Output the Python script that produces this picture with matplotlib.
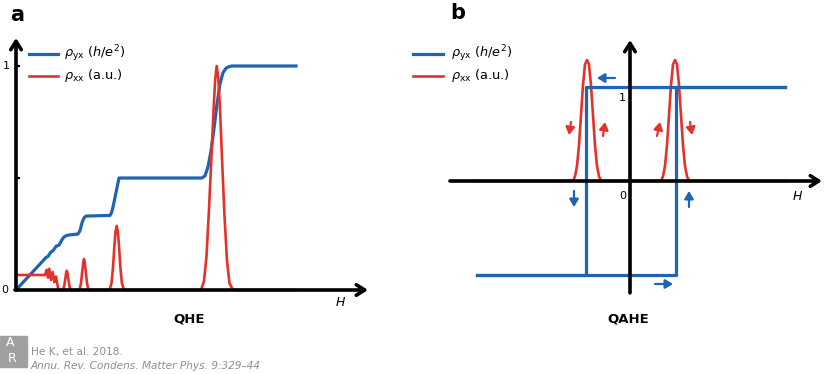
import matplotlib
matplotlib.use("Agg")
import matplotlib.pyplot as plt
from matplotlib.lines import Line2D
from matplotlib.patches import Rectangle

W, H = 824, 374
BLUE = "#1e64b0"
RED = "#e4322b"
GREY = "#8e8e8e"

# --------------------------------------
# Panel a: QHE (H in arbitrary units, rho_yx in h/e^2)
# --------------------------------------
qhe_h_yx = [0, 30, 32, 35, 37, 40, 43, 47, 49, 52, 62, 64, 66, 68, 70, 94, 95.5, 97, 103,
            186, 189, 192, 195, 198, 201, 204, 207, 210, 213, 216, 280]
qhe_rho_yx = [0, 0.145, 0.15, 0.17, 0.175, 0.195, 0.2, 0.232, 0.24, 0.245, 0.25, 0.265, 0.3, 0.322, 0.33,
              0.333, 0.345, 0.37, 0.5,
              0.5, 0.51, 0.55, 0.62, 0.72, 0.83, 0.92, 0.97, 0.99, 0.997, 1.0, 1.0]

qhe_h_xx = [0, 29, 30.7, 32, 33.3, 35, 36.7, 38.3, 40, 42, 44,
            47, 48.3, 49.3, 50.2, 50.8, 51.4, 52.3, 53.3, 54.5,
            63.5, 65, 66.3, 67.3, 68, 68.7, 69.7, 71, 72.5,
            93.5, 95.5, 97, 98.3, 99.5, 100.7, 101.9, 103.1, 104.4, 105.9, 108,
            185, 188, 190.5, 193, 195.5, 197.5, 199.2, 200.7, 202.2, 203.9, 205.9, 208.4, 211, 213.5, 217,
            280]
qhe_rho_xx = [0.067, 0.067, 0.09, 0.055, 0.095, 0.045, 0.08, 0.035, 0.06, 0.01, 0,
              0, 0.02, 0.05, 0.078, 0.086, 0.078, 0.05, 0.02, 0,
              0, 0.03, 0.085, 0.125, 0.138, 0.125, 0.085, 0.03, 0,
              0, 0.03, 0.1, 0.19, 0.26, 0.286, 0.26, 0.19, 0.1, 0.03, 0,
              0, 0.04, 0.15, 0.36, 0.6, 0.8, 0.94, 1.0, 0.95, 0.82, 0.6, 0.34, 0.13, 0.03, 0,
              0]

# --------------------------------------
# Panel b: QAHE hysteresis loop
# --------------------------------------
qahe_h_up = [-153, 46, 46, 155]
qahe_yx_up = [-1, -1, 1, 1]
qahe_h_down = [155, -44, -44, -153]
qahe_yx_down = [1, 1, -1, -1]

qahe_h_xx = [-157, -57, -55, -53, -51, -49, -47, -45, -43, -41, -39, -37, -35, -33, -31, -29,
             31, 33, 35, 37, 39, 41, 43, 45, 47, 49, 51, 53, 55, 57, 59, 155]
qahe_rho_xx = [0, 0, 0.05, 0.16, 0.38, 0.7, 1.02, 1.24, 1.287, 1.24, 1.02, 0.7, 0.38, 0.16, 0.05, 0,
               0, 0.05, 0.16, 0.38, 0.7, 1.02, 1.24, 1.287, 1.24, 1.02, 0.7, 0.38, 0.16, 0.05, 0, 0]


def fx(px):
    return px / W


def fy(py):
    return 1 - py / H


fig = plt.figure(figsize=(W / 100, H / 100), dpi=100)

axis_arrow = dict(arrowstyle="->,head_length=0.6,head_width=0.38", lw=2.6, color="k",
                  shrinkA=0, shrinkB=0)

# ---- panel a ----
ax = fig.add_axes([0, 0, 410 / W, 1])
ax.set_xlim(-16, 394)
ax.set_ylim((290 - 374) / 224, 290 / 224)
ax.axis("off")
ax.annotate("", xy=(0, 1.125), xytext=(0, 0), arrowprops=axis_arrow)
ax.annotate("", xy=(352, 0), xytext=(-1, 0), arrowprops=axis_arrow)
for yt in (0.5, 1.0):
    ax.plot([0, 4], [yt, yt], color="k", lw=1.6, solid_capstyle="butt")
ax.plot(qhe_h_yx, qhe_rho_yx, color=BLUE, lw=2.3, solid_joinstyle="round")
ax.plot(qhe_h_xx, qhe_rho_xx, color=RED, lw=1.9, solid_joinstyle="round")

# ---- panel b ----
bx = fig.add_axes([410 / W, 0, 414 / W, 1])
bx.set_xlim(410 - 630, 824 - 630)
bx.set_ylim((181 - 374) / 94, 181 / 94)
bx.axis("off")
bx.annotate("", xy=(192, 0), xytext=(-180, 0), arrowprops=axis_arrow)
bx.plot(qahe_h_xx, qahe_rho_xx, color=RED, lw=1.9, solid_joinstyle="round")
bx.plot(qahe_h_up, qahe_yx_up, color=BLUE, lw=2.3)
bx.plot(qahe_h_down, qahe_yx_down, color=BLUE, lw=2.3)
bx.annotate("", xy=(0, 1.5), xytext=(0, -1.19), arrowprops=axis_arrow)

small = dict(arrowstyle="-|>,head_length=0.5,head_width=0.3", lw=1.6, shrinkA=0, shrinkB=0,
             mutation_scale=9)


# sweep-direction arrows (pixel positions converted to data)
def bpt(px, py):
    return (px - 630, (181 - py) / 94)


for (p0, p1, c) in [((615, 78), (597, 78), BLUE), ((655, 284), (673, 284), BLUE),
                    ((574, 191), (574, 207), BLUE), ((689, 207), (689, 191), BLUE),
                    ((571, 122), (569, 135), RED), ((603, 136), (605, 122), RED),
                    ((657, 136), (660, 122), RED), ((690, 122), (692, 135), RED)]:
    bx.annotate("", xy=bpt(*p1), xytext=bpt(*p0), arrowprops=dict(small, color=c))

# ---- texts ----
fig.text(fx(10), fy(15), "a", fontsize=15, fontweight="bold", va="center", ha="left")
fig.text(fx(450), fy(13), "b", fontsize=15, fontweight="bold", va="center", ha="left")
fig.text(fx(6), fy(66), "1", fontsize=8, va="center", ha="center")
fig.text(fx(5), fy(290), "0", fontsize=8, va="center", ha="center")
fig.text(fx(622), fy(98), "1", fontsize=8, va="center", ha="center")
fig.text(fx(623), fy(196), "0", fontsize=8, va="center", ha="center")
fig.text(fx(341), fy(302), "$H$", fontsize=9, va="center", ha="center")
fig.text(fx(798), fy(197), "$H$", fontsize=9, va="center", ha="center")
fig.text(fx(189), fy(319), "QHE", fontsize=9.5, fontweight="bold", va="center", ha="center")
fig.text(fx(628), fy(319), "QAHE", fontsize=9.5, fontweight="bold", va="center", ha="center")

labels = [(r"$\rho_{\mathrm{yx}}$ ($h/e^2$)", BLUE, 2.3), (r"$\rho_{\mathrm{xx}}$ (a.u.)", RED, 1.9)]
for x0, x1, xt in [(29, 58, 64), (413, 443, 451)]:
    for i, (lab, col, lw) in enumerate(labels):
        yy = 54 + 22 * i
        fig.add_artist(Line2D([fx(x0), fx(x1)], [fy(yy), fy(yy)], color=col, lw=lw,
                              transform=fig.transFigure))
        fig.text(fx(xt), fy(yy), lab, fontsize=9.3, va="center", ha="left")

# ---- footer ----
fig.add_artist(Rectangle((fx(0), fy(367)), fx(27), 31 / H, color="#a0a0a0",
                         transform=fig.transFigure))
fig.text(fx(10), fy(343), "A", fontsize=9, color="white", va="center", ha="center")
fig.text(fx(12), fy(359), "R", fontsize=9, color="white", va="center", ha="center")
fig.text(fx(31), fy(352), "He K, et al. 2018.", fontsize=7.6, color=GREY, va="center", ha="left")
fig.text(fx(31), fy(366), "Annu. Rev. Condens. Matter Phys. 9:329\u201344", fontsize=7.6,
         color=GREY, style="italic", va="center", ha="left")

fig.savefig("out.png", dpi=100)
